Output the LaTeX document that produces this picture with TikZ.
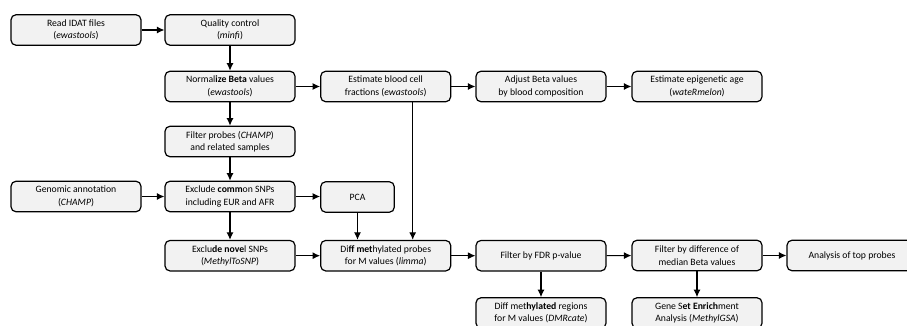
\documentclass[tikz,border=0pt]{standalone}
\usepackage{fontspec}
\setmainfont{Carlito}
\usetikzlibrary{arrows.meta}
\definecolor{boxfill}{RGB}{242,242,242}
\begin{document}
\begin{tikzpicture}[x=1pt,y=1pt,
  box/.style={draw=black, line width=1.2pt, fill=boxfill, rounded corners=5pt,
    minimum width=130pt, minimum height=30.5pt, inner sep=1pt, align=center,
    font=\fontsize{9.7}{12.5}\selectfont},
  conn/.style={line width=1.1pt, -{Latex[length=7.5pt,width=7pt]}}]
\useasboundingbox (0,0) rectangle (907,-326);
\clip (0,0) rectangle (907,-326);
% row 1
\node[box] (read) at (76,-30) {Read IDAT files\\(\textit{ewastools})};
\node[box] (qc) at (230,-30) {Quality control\\(\textit{minfi})};
% row 2
\node[box] (norm) at (230,-86.5) {Normal\textbf{ize} \textbf{Beta} values\\(\textit{ewastools})};
\node[box] (blood) at (385.7,-86.5) {Estimate blood cell\\fractions (\textit{ewastools})};
\node[box] (adjust) at (541,-86.5) {Adjust Beta values\\by blood composition};
\node[box] (epi) at (697,-86.5) {Estimate epigenetic age\\(\textit{wateRmelon})};
% row 3
\node[box] (filter) at (230,-141.5) {Filter probes (\textit{CHAMP})\\and related samples};
% row 4
\node[box] (genomic) at (76,-196.5) {Genomic annotation\\(\textit{CHAMP})};
\node[box] (common) at (230,-196.5) {Exclude \textbf{comm}on SNPs\\including EUR and AFR};
\node[box, minimum width=73.6pt] (pca) at (357.5,-197) {PCA};
% row 5
\node[box] (novel) at (230,-255.7) {Exclu\textbf{de nove}l SNPs\\(\textit{MethylToSNP})};
\node[box] (diff) at (385.7,-255.7) {Di\textbf{ff met}hylated probes\\for M values (\textit{limma})};
\node[box] (fdr) at (541,-255.7) {Filter by FDR p-value};
\node[box] (fdiff) at (697,-255.5) {Filter by difference of\\median Beta values};
\node[box] (top) at (852,-255.5) {Analysis of top probes};
% row 6
\node[box] (dmr) at (541,-313) {Diff met\textbf{hylated} regions\\for M values (\textit{DMRcate})};
\node[box] (gsea) at (697,-313) {Gene S\textbf{et} \textbf{Enrich}ment\\Analysis (\textit{MethylGSA})};
% connectors
\draw[conn] (read) -- (qc);
\draw[conn] (qc) -- (norm);
\draw[conn] (norm) -- (blood);
\draw[conn] (blood) -- (adjust);
\draw[conn] (adjust) -- (epi);
\draw[conn] (norm) -- (filter);
\draw[conn] (filter) -- (common);
\draw[conn] (genomic) -- (common);
\draw[conn] (common.east) -- (pca.west |- common.east);
\draw[conn] (common) -- (novel);
\draw[conn] (pca.south) -- (pca.south |- diff.north);
\draw[conn] ([xshift=27pt]blood.south) -- ([xshift=27pt]diff.north);
\draw[conn] (novel) -- (diff);
\draw[conn] (diff) -- (fdr);
\draw[conn] (fdr) -- (dmr);
\draw[conn] (fdr) -- (fdiff);
\draw[conn] (fdiff) -- (top);
\draw[conn] (fdiff) -- (gsea);
\end{tikzpicture}
\end{document}
